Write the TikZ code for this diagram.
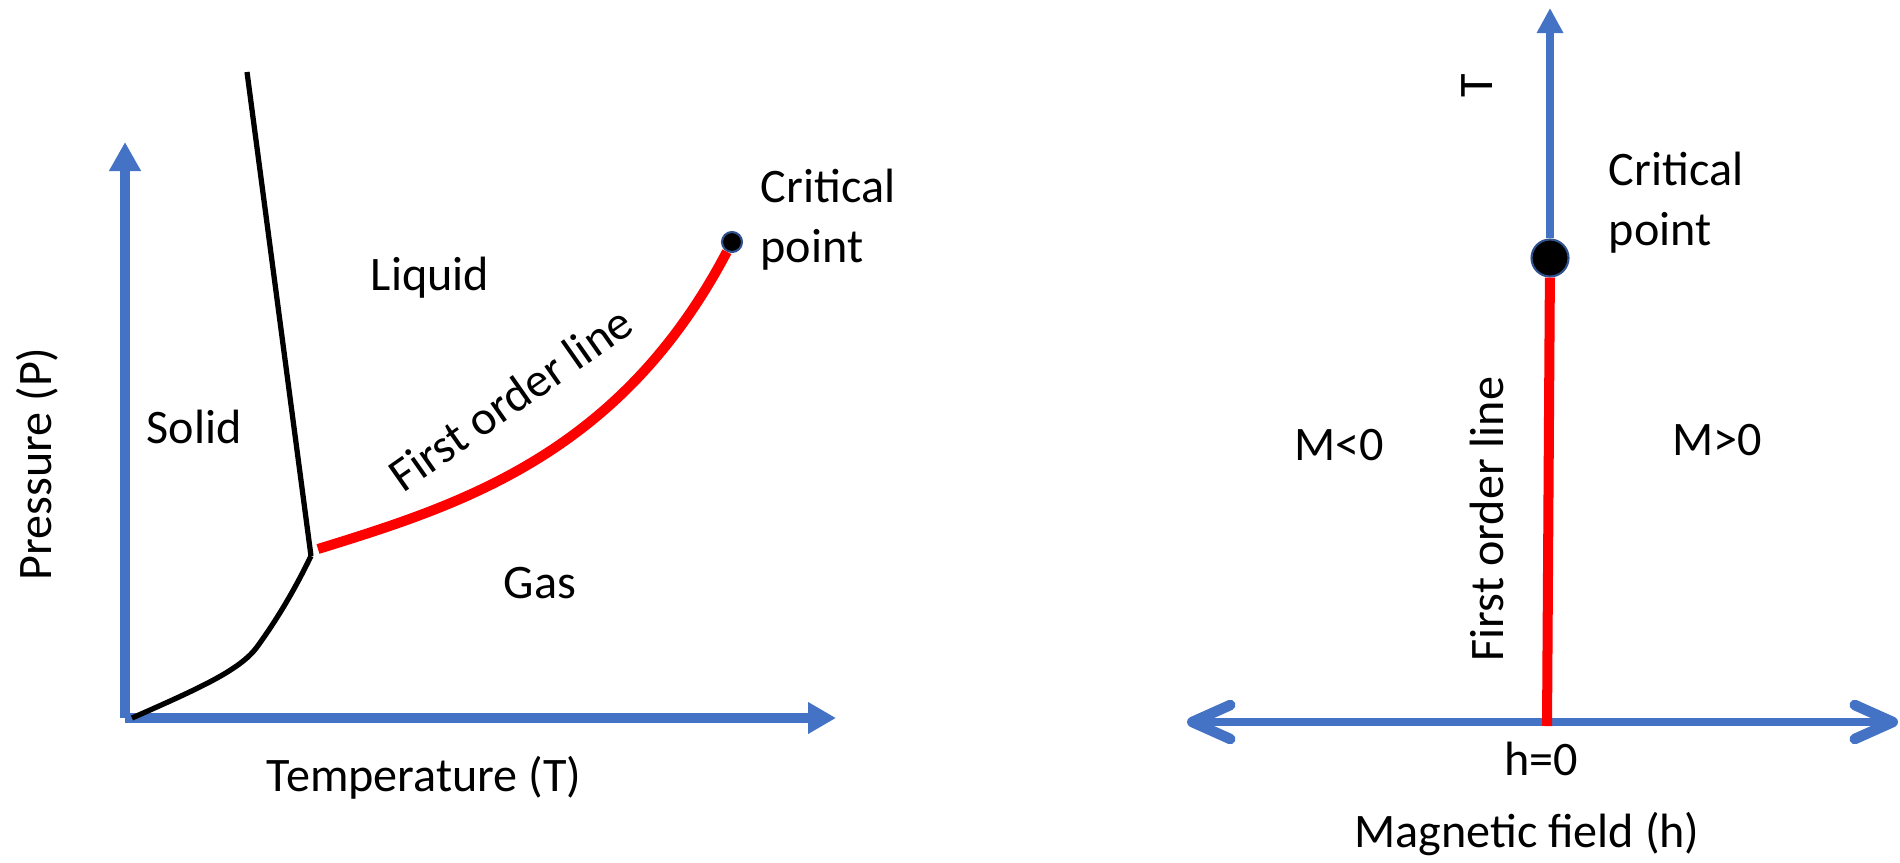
\documentclass[tikz,border=0pt]{standalone}
\usepackage{fontspec}
\setmainfont{Carlito}
\usetikzlibrary{arrows.meta}
\definecolor{axisblue}{HTML}{4472C4}
\definecolor{dotblue}{HTML}{2F528F}

\begin{document}
\begin{tikzpicture}[
    every node/.style={font=\fontsize{13.7pt}{17pt}\selectfont},
    axis/.style={axisblue,line width=2.85pt},
    faxis/.style={axisblue,line width=2.3pt},
    phase/.style={black,line width=1.5pt},
    firstorder/.style={red,line width=2.85pt},
    cpoint/.style={circle,fill=black,draw=dotblue,line width=0.6pt,inner sep=0pt,minimum size=#1},
    barb/.tip={Straight Barb[round,length=0.38cm,width=0.34cm,line width=3pt]}
  ]
    \useasboundingbox (0,0) rectangle (19,8.62);

    % phase diagram
    \coordinate (O)     at (1.25,1.44);
    \coordinate (Ptop)  at (1.25,7.20);
    \coordinate (Tend)  at (8.36,1.44);
    \coordinate (melt)  at (2.47,7.90);
    \coordinate (triple) at (3.11,3.06);
    \coordinate (subl)  at (1.32,1.44);
    \coordinate (liqgas) at (3.18,3.13);
    \node[cpoint=0.2cm] (crit) at (7.32,6.20) {};

    \draw[axis,-{Triangle[length=0.29cm,width=0.30cm]}] (O) -- (Ptop);
    \draw[axis,-{Triangle[length=0.28cm,width=0.30cm]}] (O) -- (Tend);
    \draw[phase] (melt) -- (triple);
    \draw[phase] (subl) .. controls (2.00,1.74) and (2.40,1.92) .. (2.57,2.15)
                        .. controls (2.75,2.40) and (2.92,2.67) .. (triple);
    \draw[firstorder] (liqgas) .. controls (4.60,3.57) and (6.20,4.07) .. (crit);

    \node[anchor=base] (solid)  at (1.94,4.19) {Solid};
    \node[anchor=base] (liquid) at (4.30,5.72) {Liquid};
    \node[anchor=base] (gas)    at (5.40,2.64) {Gas};
    \node[anchor=base] (tlabel) at (4.24,0.71) {Temperature (T)};
    \node[anchor=base,rotate=90] (plabel) at (0.51,3.98) {Pressure (P)};
    \node[anchor=base,rotate=35] (fol) at (5.20,4.50) {First order line};
    \node[anchor=west,inner sep=0pt,align=left] (crlabel) at (7.60,6.42) {Critical\\point};

    % magnet
    \node[cpoint=0.37cm] (crit2) at (15.50,6.04) {};
    \coordinate (Ttop)   at (15.50,8.54);
    \coordinate (hzero)  at (15.47,1.36);
    \coordinate (hleft)  at (11.87,1.40);
    \coordinate (hright) at (18.98,1.40);

    \draw[faxis,barb-barb] (hleft) -- (hright);
    \draw[faxis,-{Triangle[length=0.25cm,width=0.25cm]}] (crit2) -- (Ttop);
    \draw[firstorder] (crit2) -- (hzero);

    \node[anchor=base,rotate=90] (tlabel2) at (14.92,7.76) {T};
    \node[anchor=base,rotate=90] (fol2) at (15.03,3.43) {First order line};
    \node[anchor=base] (mneg)    at (13.39,4.02) {M<0};
    \node[anchor=base] (mpos)    at (17.17,4.07) {M>0};
    \node[anchor=base] (hzlabel) at (15.41,0.87) {h=0};
    \node[anchor=base] (hlabel)  at (15.27,0.15) {Magnetic field (h)};
    \node[anchor=west,inner sep=0pt,align=left] (crlabel2) at (16.08,6.59) {Critical\\point};
\end{tikzpicture}
\end{document}
